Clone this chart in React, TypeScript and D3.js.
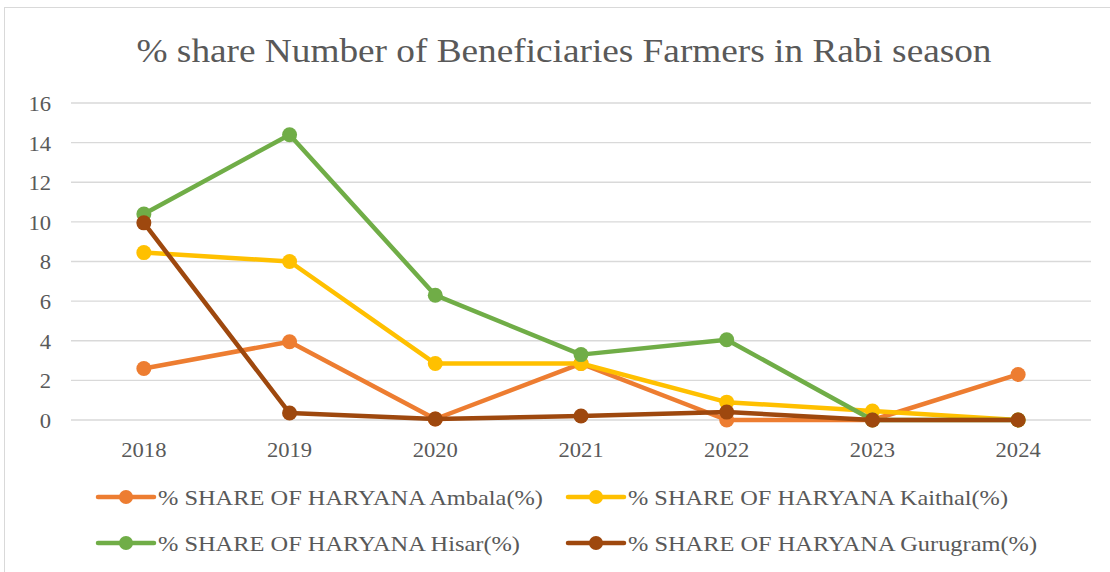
import { scaleLinear, scalePoint, line as d3line } from "d3";

const years = ["2018", "2019", "2020", "2021", "2022", "2023", "2024"];
const yTicks = [0, 2, 4, 6, 8, 10, 12, 14, 16];

const ambala = [2.6, 3.95, 0.05, 2.85, 0, 0, 2.3];
const kaithal = [8.45, 8.0, 2.85, 2.85, 0.9, 0.45, 0];
const hisar = [10.4, 14.4, 6.3, 3.3, 4.05, 0, 0];
const gurugram = [9.95, 0.35, 0.05, 0.2, 0.4, 0, 0];

const seriesNames = [
  "% SHARE OF HARYANA Ambala(%)",
  "% SHARE OF HARYANA Kaithal(%)",
  "% SHARE OF HARYANA Hisar(%)",
  "% SHARE OF HARYANA Gurugram(%)",
];
const seriesColors = ["#ED7D31", "#FFC000", "#70AD47", "#9E480E"];
const seriesValues = [ambala, kaithal, hisar, gurugram];
// rendered label widths in the original, used to squeeze the serif text the same way
const legendWidths = [385, 380, 362, 409];

const W = 1110;
const H = 572;
const plot = { left: 71, right: 1091, top: 103, bottom: 420 };
const font = "Liberation Serif, DejaVu Serif, serif";
const digitW = 11.3; // width of one digit in the original's axis labels

export default function App() {
  const band = (plot.right - plot.left) / years.length;
  const x = scalePoint<string>()
    .domain(years)
    .range([plot.left + band / 2, plot.right - band / 2]);
  const y = scaleLinear().domain([0, 16]).range([plot.bottom, plot.top]);

  const line = d3line<number>()
    .x((_, i) => x(years[i]) ?? 0)
    .y((d) => y(d));

  // legend layout: 2 columns x 2 rows
  const legendPos = [
    { x: 98, y: 497 },
    { x: 568, y: 497 },
    { x: 98, y: 543 },
    { x: 568, y: 543 },
  ];

  return (
    <div style={{ position: "absolute", left: 0, top: 0 }}>
      <svg width={W} height={H} style={{ display: "block", background: "#fff", fontFamily: font }}>
        <rect x={4.5} y={7.5} width={W} height={H} fill="#fff" stroke="#d9d9d9" strokeWidth={1} />

        <text
          x={564}
          y={62}
          textAnchor="middle"
          fontSize={33}
          fill="#595959"
          textLength={855}
          lengthAdjust="spacingAndGlyphs"
        >
          % share Number of Beneficiaries Farmers in Rabi season
        </text>

        {/* gridlines */}
        {yTicks.map((t) => (
          <line
            key={t}
            x1={plot.left}
            x2={plot.right}
            y1={y(t)}
            y2={y(t)}
            stroke="#d9d9d9"
            strokeWidth={1.3}
          />
        ))}

        {/* y axis labels */}
        {yTicks.map((t) => (
          <text
            key={t}
            x={51}
            y={y(t)}
            dy="0.36em"
            textAnchor="end"
            fontSize={22}
            fill="#595959"
            textLength={String(t).length * digitW}
            lengthAdjust="spacingAndGlyphs"
          >
            {t}
          </text>
        ))}

        {/* x axis labels */}
        {years.map((yr) => (
          <text
            key={yr}
            x={x(yr)}
            y={457}
            textAnchor="middle"
            fontSize={22}
            fill="#595959"
            textLength={yr.length * digitW}
            lengthAdjust="spacingAndGlyphs"
          >
            {yr}
          </text>
        ))}

        {/* series */}
        {seriesValues.map((vals, si) => (
          <g key={si}>
            <path
              d={line(vals) ?? undefined}
              fill="none"
              stroke={seriesColors[si]}
              strokeWidth={4.5}
              strokeLinejoin="round"
            />
            {vals.map((v, i) => (
              <circle key={i} cx={x(years[i])} cy={y(v)} r={7.5} fill={seriesColors[si]} />
            ))}
          </g>
        ))}

        {/* legend */}
        {seriesNames.map((name, si) => {
          const p = legendPos[si];
          return (
            <g key={name}>
              <line
                x1={p.x}
                x2={p.x + 56}
                y1={p.y}
                y2={p.y}
                stroke={seriesColors[si]}
                strokeWidth={4.5}
                strokeLinecap="round"
              />
              <circle cx={p.x + 28} cy={p.y} r={7} fill={seriesColors[si]} />
              <text
                x={p.x + 60}
                y={p.y}
                dy="0.36em"
                fontSize={21}
                fill="#595959"
                textLength={legendWidths[si]}
                lengthAdjust="spacingAndGlyphs"
              >
                {name}
              </text>
            </g>
          );
        })}
      </svg>
    </div>
  );
}
